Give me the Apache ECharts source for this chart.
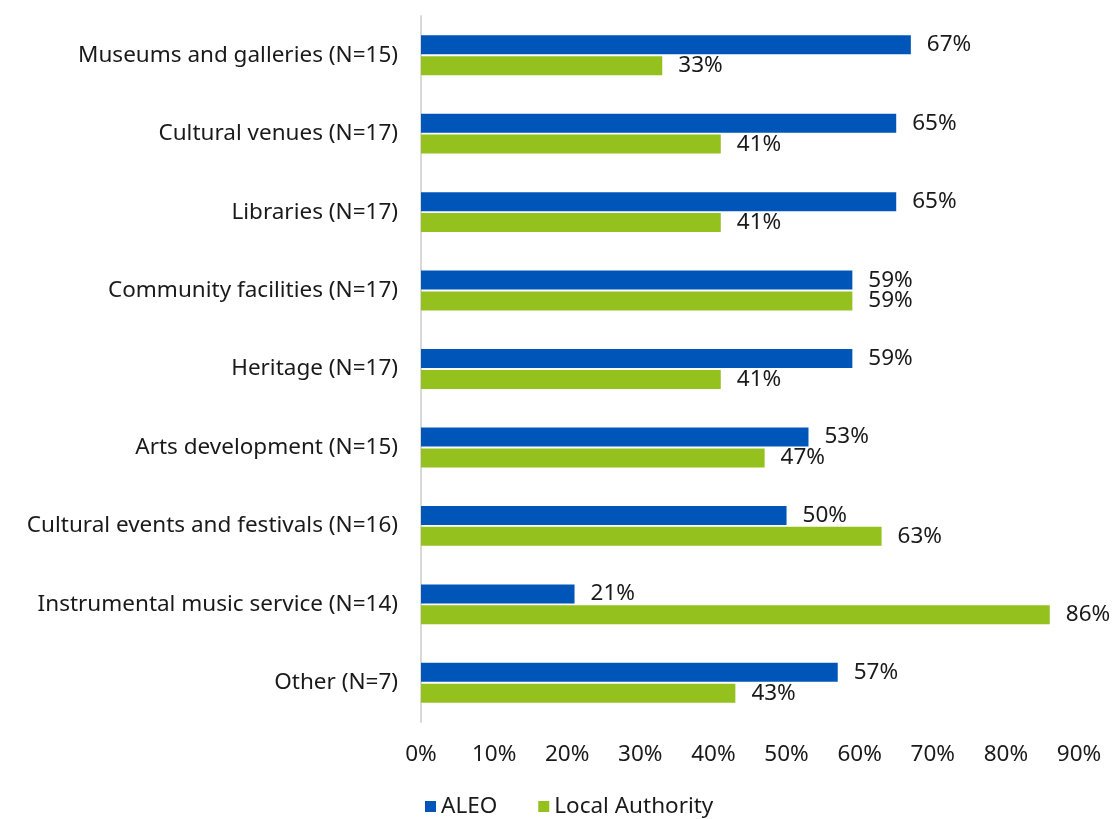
<!DOCTYPE html>
<html>
<head>
<meta charset="utf-8">
<script src="https://cdn.jsdelivr.net/npm/echarts@6/dist/echarts.min.js"></script>
<style>
  html, body { margin: 0; padding: 0; background: #ffffff; }
  #chart { width: 1117px; height: 819px; }
</style>
</head>
<body>
<div id="chart"></div>
<script>
// Service areas, listed top to bottom
const categories = [
  'Museums and galleries (N=15)',
  'Cultural venues (N=17)',
  'Libraries (N=17)',
  'Community facilities (N=17)',
  'Heritage (N=17)',
  'Arts development (N=15)',
  'Cultural events and festivals (N=16)',
  'Instrumental music service (N=14)',
  'Other (N=7)'
];
// Share of respondents (%) per provider type
const aleoValues = [67, 65, 65, 59, 59, 53, 50, 21, 57];
const localAuthorityValues = [33, 41, 41, 59, 41, 47, 63, 86, 43];
const seriesNames = ['ALEO', 'Local Authority'];

const FONT = '"Noto Sans", sans-serif';
const FS = 22.5;
const TEXT = '#1a1a1a';

const chart = echarts.init(document.getElementById('chart'), null, { renderer: 'canvas' });

const labelStyle = {
  show: true,
  position: 'right',
  distance: 16,
  formatter: p => p.value + '%',
  color: TEXT,
  fontFamily: FONT,
  fontSize: FS
};

chart.setOption({
  animation: false,
  textStyle: { fontFamily: FONT },
  grid: { left: 421, top: 16, width: 658, height: 706, containLabel: false },
  xAxis: {
    type: 'value',
    min: 0,
    max: 90,
    interval: 10,
    axisLabel: { formatter: '{value}%', color: TEXT, fontSize: FS, fontFamily: FONT, margin: 21 },
    axisLine: { show: false },
    axisTick: { show: false },
    splitLine: { show: false }
  },
  yAxis: {
    type: 'category',
    data: categories,
    inverse: true,
    axisLabel: { color: TEXT, fontSize: FS, fontFamily: FONT, margin: 23 },
    axisLine: { show: true, lineStyle: { color: '#d9d9d9', width: 2 } },
    axisTick: { show: false }
  },
  legend: {
    data: seriesNames,
    bottom: -4,
    left: 420,
    itemWidth: 11,
    itemHeight: 11,
    itemGap: 41,
    icon: 'rect',
    textStyle: { color: TEXT, fontSize: FS, fontFamily: FONT }
  },
  series: [
    {
      name: seriesNames[0],
      type: 'bar',
      data: aleoValues,
      barWidth: 19,
      barGap: '10%',
      itemStyle: { color: '#0056b8' },
      label: labelStyle
    },
    {
      name: seriesNames[1],
      type: 'bar',
      data: localAuthorityValues,
      barWidth: 19,
      itemStyle: { color: '#95c11f' },
      label: labelStyle
    }
  ]
});
</script>
</body>
</html>
